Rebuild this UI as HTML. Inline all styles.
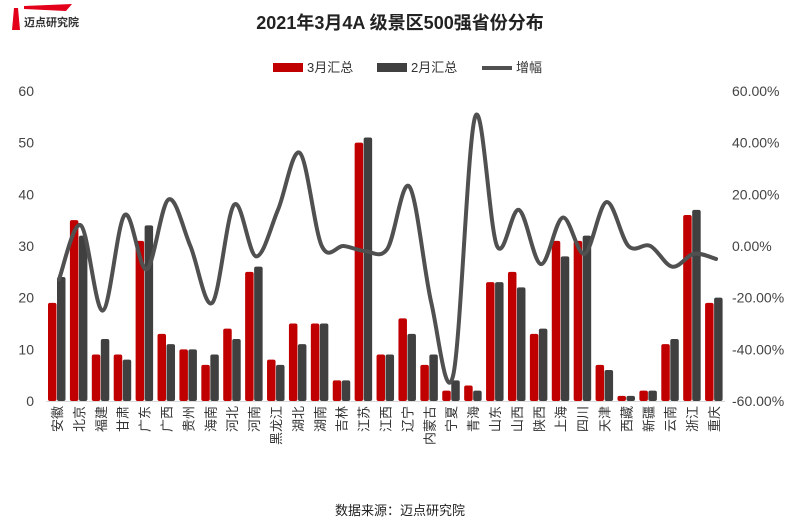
<!DOCTYPE html>
<html><head><meta charset="utf-8"><style>
body{margin:0;background:#fff;width:800px;height:523px;overflow:hidden;font-family:"Liberation Sans","Noto Sans CJK SC",sans-serif}
svg text{font-family:"Liberation Sans","Noto Sans CJK SC",sans-serif}
</style></head><body>
<svg id="chart" width="800" height="523" viewBox="0 0 800 523">
<g>
<polygon points="14,8 18,8 20,30 12,30" fill="#e3001b"/>
<polygon points="24,6 72,4 66,11 24,9" fill="#e3001b"/>
<text x="24" y="26" font-size="11" font-weight="bold" fill="#333">迈点研究院</text>
</g>
<text x="400" y="29" text-anchor="middle" font-size="18" font-weight="bold" fill="#222">2021年3月4A 级景区500强省份分布</text>
<g>
<g><rect x="273" y="63" width="30" height="9" fill="#c00000"/><text x="307" y="72" font-size="13" fill="#333">3月汇总</text></g>
<g><rect x="377" y="63" width="30" height="9" fill="#404040"/><text x="411" y="72" font-size="13" fill="#333">2月汇总</text></g>
<g><line x1="482" y1="68" x2="512" y2="68" stroke="#505050" stroke-width="4"/><text x="516" y="72" font-size="13" fill="#333">增幅</text></g>
</g>
<g id="plot"></g>
<text x="400" y="515" text-anchor="middle" font-size="13" fill="#222">数据来源：迈点研究院</text>
</svg>
<script>
const categories=["安徽","北京","福建","甘肃","广东","广西","贵州","海南","河北","河南","黑龙江","湖北","湖南","吉林","江苏","江西","辽宁","内蒙古","宁夏","青海","山东","山西","陕西","上海","四川","天津","西藏","新疆","云南","浙江","重庆"];
const march=[19,35,9,9,31,13,10,7,14,25,8,15,15,4,50,9,16,7,2,3,23,25,13,31,31,7,1,2,11,36,19];
const feb=[24,32,12,8,34,11,10,9,12,26,7,11,15,4,51,9,13,9,4,2,23,22,14,28,32,6,1,2,12,37,20];
const growth=[-13,8,-25,12,-9,18,0,-22,16,-4,14,36,0,0,-2,-1,23,-22,-50,50,0,14,-7,11,-3,17,0,0,-8,-3,-5];
const leftTicks=[0,10,20,30,40,50,60];
const rightTicks=[-60,-40,-20,0,20,40,60];
const X0=46,X1=725,Y0=401,Y1=91;
const cw=(X1-X0)/categories.length;
const y=v=>Y0-(v/60)*(Y0-Y1);
const yr=v=>246-(v/60)*(246-Y1);
const ns="http://www.w3.org/2000/svg";
const g=document.getElementById('plot');
function mk(t,a){const e=document.createElementNS(ns,t);for(const k in a)e.setAttribute(k,a[k]);g.appendChild(e);return e;}
leftTicks.forEach(v=>{const t=mk('text',{x:34,y:y(v)+5,'text-anchor':'end','font-size':14,fill:'#444'});t.textContent=v;

});
rightTicks.forEach(v=>{const t=mk('text',{x:732,y:yr(v)+5,'font-size':14,fill:'#444'});t.textContent=v.toFixed(2)+'%';

});
const ax=mk('line',{x1:X0,x2:X1,y1:Y0+0.5,y2:Y0+0.5,stroke:'#d9d9d9'});


categories.forEach((c,i)=>{
const bx=X0+i*cw+2;
const r=mk('rect',{x:bx,y:y(march[i]),width:8.5,height:Y0-y(march[i]),fill:'#c00000',rx:2});


const d=mk('rect',{x:bx+9,y:y(feb[i]),width:8.5,height:Y0-y(feb[i]),fill:'#404040',rx:2});


const cx=X0+(i+0.5)*cw+5;
const t=mk('text',{x:cx,y:406,'text-anchor':'end','font-size':13,fill:'#333',transform:`rotate(-90 ${cx} 406)`});
t.textContent=c;


});
const pts=growth.map((v,i)=>[X0+(i+0.5)*cw+2,yr(v)]);
let dstr='M'+pts[0][0]+','+pts[0][1];
for(let i=0;i<pts.length-1;i++){const p0=pts[i-1]||pts[i],p1=pts[i],p2=pts[i+1],p3=pts[i+2]||p2;
const c1=[p1[0]+(p2[0]-p0[0])/6,p1[1]+(p2[1]-p0[1])/6],c2=[p2[0]-(p3[0]-p1[0])/6,p2[1]-(p3[1]-p1[1])/6];
dstr+=` C${c1[0]},${c1[1]} ${c2[0]},${c2[1]} ${p2[0]},${p2[1]}`;}
const ln=mk('path',{d:dstr,fill:'none',stroke:'#505050','stroke-width':4,'stroke-linecap':'round'});


</script>
</body></html>
